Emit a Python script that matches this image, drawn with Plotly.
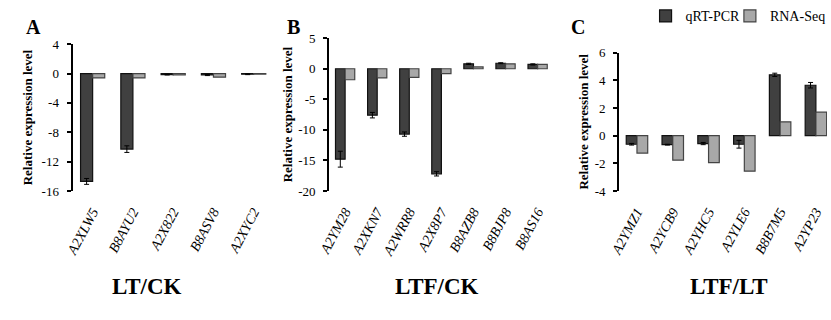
import plotly.graph_objects as go

W, H = 831, 320

# ---------------- data ----------------
genes_a = ["A2XLW5", "B8AYU2", "A2X822", "B8ASV8", "A2XYC2"]
qrt_a = [-14.7, -10.3, -0.15, -0.2, -0.1]
qrt_err_a = [0.4, 0.45, 0.05, 0.08, 0.05]
rna_a = [-0.6, -0.6, -0.2, -0.5, -0.1]

genes_b = ["A2YM28", "A2XKN7", "A2WRR8", "A2X8P7", "B8AZB8", "B8BJP8", "B8AS16"]
qrt_b = [-14.8, -7.6, -10.7, -17.2, 0.8, 0.9, 0.7]
qrt_err_b = [1.3, 0.45, 0.35, 0.35, 0.1, 0.08, 0.1]
rna_b = [-1.8, -1.5, -1.4, -0.8, 0.3, 0.8, 0.7]

genes_c = ["A2YMZ1", "A2YCB9", "A2YHC5", "A2YLE6", "B8B7M5", "A2YP23"]
qrt_c = [-0.62, -0.65, -0.57, -0.62, 4.4, 3.65]
qrt_err_c = [0.06, 0.03, 0.08, 0.28, 0.12, 0.2]
rna_c = [-1.26, -1.77, -1.95, -2.57, 1.0, 1.7]

yticks_a = [4, 0, -4, -8, -12, -16]
yticks_b = [5, 0, -5, -10, -15, -20]
yticks_c = [6, 4, 2, 0, -2, -4]

group_titles = ["LT/CK", "LTF/CK", "LTF/LT"]
panel_letters = ["A", "B", "C"]
series_names = ["qRT-PCR", "RNA-Seq"]

# ---------------- styles ----------------
SERIF = "Liberation Serif"
DARK = "#404040"
LIGHT = "#a8a8a8"


def px_x(p):
    return p / W


def px_y(p):
    return 1 - p / H


panels = [
    dict(genes=genes_a, qrt=qrt_a, err=qrt_err_a, rna=rna_a, yt=yticks_a,
         xd=[px_x(61.7), px_x(267)], yd=[px_y(193), px_y(39)], xr=None, so=6),
    dict(genes=genes_b, qrt=qrt_b, err=qrt_err_b, rna=rna_b, yt=yticks_b,
         xd=[px_x(323.3), px_x(552.3)], yd=[px_y(193), px_y(32.7)], xr=None, so=3),
    dict(genes=genes_c, qrt=qrt_c, err=qrt_err_c, rna=rna_c, yt=yticks_c,
         xd=[px_x(619), 1.0], yd=[px_y(193), px_y(48)], xr=5.31, so=3),
]

fig = go.Figure()
layout = {}

for i, p in enumerate(panels):
    n = len(p["genes"])
    sx = "" if i == 0 else str(i + 1)
    xa, ya = "x" + sx, "y" + sx
    fig.add_trace(go.Bar(
        x=p["genes"], y=p["qrt"], name=series_names[0], xaxis=xa, yaxis=ya,
        marker=dict(color=DARK, line=dict(color="#111111", width=1.2)),
        error_y=dict(type="data", array=p["err"], color="#000000", thickness=1, width=2.5),
        showlegend=(i == 0), legendgroup="q", legend="legend"))
    fig.add_trace(go.Bar(
        x=p["genes"], y=p["rna"], name=series_names[1], xaxis=xa, yaxis=ya,
        marker=dict(color=LIGHT, line=dict(color="#444444", width=1.2)),
        showlegend=(i == 0), legendgroup="r", legend="legend2"))

    ymin, ymax = min(p["yt"]), max(p["yt"])
    xmax = p["xr"] if p["xr"] is not None else n - 0.5
    layout["xaxis" + sx] = dict(
        domain=p["xd"], anchor=ya, type="category", range=[-0.5, xmax],
        showline=False, ticks="", showgrid=False, zeroline=False,
        tickangle=-62, ticklabelstandoff=9,
        tickfont=dict(family=SERIF, size=14, color="#000000", style="italic"),
    )
    layout["yaxis" + sx] = dict(
        domain=p["yd"], anchor=xa, range=[ymin, ymax],
        showline=True, linecolor="#000", linewidth=2,
        ticks="outside", ticklen=4, tickwidth=1.5, tickcolor="#000",
        ticklabelstandoff=5,
        tickvals=p["yt"], ticktext=[("-" + str(abs(v))) if v < 0 else str(v) for v in p["yt"]],
        tickfont=dict(family=SERIF, size=13, color="#000000"),
        showgrid=False, zeroline=False,
        title=dict(text="<b>Relative expression level</b>", standoff=p["so"],
                   font=dict(family=SERIF, size=13, color="#000000")),
    )
    # zero-line axis with ticks at category boundaries
    zpos = p["yd"][0] + (0 - ymin) / (ymax - ymin) * (p["yd"][1] - p["yd"][0])
    ox = str(i + 4)
    layout["xaxis" + ox] = dict(
        overlaying=xa, anchor="free", position=zpos, type="linear",
        range=[-0.5, xmax], showline=True, linecolor="#000", linewidth=2,
        ticks="outside", ticklen=4, tickwidth=1.5, tickcolor="#000",
        tickvals=[k + 0.5 for k in range(n)], showticklabels=False,
        showgrid=False, zeroline=False,
    )

annotations = []
for (cx, lab) in zip([138, 433, 731], group_titles):
    annotations.append(dict(x=px_x(cx), y=px_y(293), xref="paper", yref="paper",
                            text="<b>" + lab + "</b>", showarrow=False,
                            xanchor="center", yanchor="middle",
                            font=dict(family=SERIF, size=23, color="#000")))
for (cx, cy, lab) in zip([21.5, 287.5, 577], [21.5, 20.5, 21.5], panel_letters):
    annotations.append(dict(x=px_x(cx), y=px_y(cy), xref="paper", yref="paper",
                            text="<b>" + lab + "</b>", showarrow=False,
                            xanchor="center", yanchor="middle",
                            font=dict(family=SERIF, size=20, color="#000")))

legend_style = dict(orientation="h", y=px_y(-7), xanchor="left", yanchor="top",
                    font=dict(family=SERIF, size=14, color="#000"),
                    bgcolor="rgba(0,0,0,0)", borderwidth=0)

fig.update_layout(
    width=W, height=H,
    margin=dict(l=0, r=0, t=0, b=0),
    paper_bgcolor="white", plot_bgcolor="white",
    barmode="group", bargap=0.4, bargroupgap=0,
    annotations=annotations,
    legend=dict(x=px_x(686 - 40), **legend_style),
    legend2=dict(x=px_x(772 - 40), **legend_style),
    **layout,
)

fig.write_html("out.html")
